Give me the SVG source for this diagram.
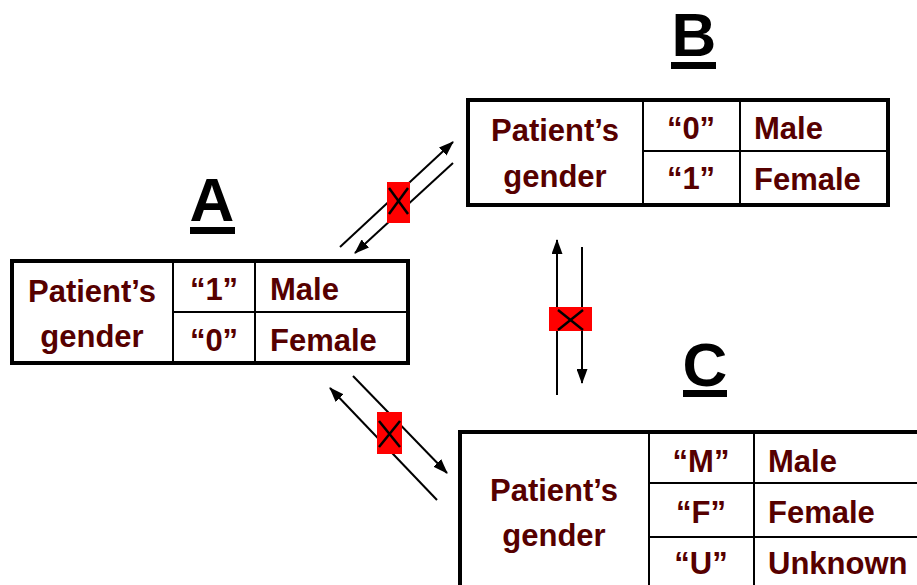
<svg xmlns="http://www.w3.org/2000/svg" width="917" height="585" viewBox="0 0 917 585">
  <defs>
    <marker id="arrow" viewBox="0 0 15 11" refX="14" refY="5.5" markerWidth="15" markerHeight="11" markerUnits="userSpaceOnUse" orient="auto">
      <path d="M0,0 L15,5.5 L0,11 z" fill="#000"/>
    </marker>
    <style>
      .frame { fill: #fff; stroke: #000; stroke-width: 4; }
      .grid { stroke: #000; stroke-width: 2; fill: none; }
      .cell { font-family: "Liberation Sans", Arial, sans-serif; font-weight: bold; font-size: 31px; fill: #560000; }
      .mid { text-anchor: middle; }
      .title { font-family: "Liberation Sans", Arial, sans-serif; font-weight: bold; font-size: 62px; fill: #000; text-anchor: middle; }
      .link { stroke: #000; stroke-width: 2; fill: none; marker-end: url(#arrow); }
      .block { fill: #ff0000; }
      .cross { stroke: #000; stroke-width: 2.5; }
    </style>
  </defs>

  <rect width="917" height="585" fill="#fff"/>

  <!-- connectors: paired arrows, each pair blocked by a red cross -->
  <g id="connectors">
    <line class="link" x1="340" y1="247" x2="453" y2="142"/>
    <line class="link" x1="453" y1="163" x2="355" y2="253"/>
    <rect class="block" x="387" y="182" width="23" height="41"/>
    <line class="cross" x1="389" y1="188" x2="408" y2="214"/>
    <line class="cross" x1="408" y1="188" x2="389" y2="214"/>

    <line class="link" x1="557" y1="395" x2="557" y2="240"/>
    <line class="link" x1="582" y1="247" x2="582" y2="383"/>
    <rect class="block" x="549" y="307" width="43" height="24"/>
    <line class="cross" x1="558" y1="310" x2="583" y2="330"/>
    <line class="cross" x1="583" y1="310" x2="558" y2="330"/>

    <line class="link" x1="353" y1="376" x2="447" y2="473"/>
    <line class="link" x1="437" y1="500" x2="330" y2="388"/>
    <rect class="block" x="377" y="412" width="25" height="42"/>
    <line class="cross" x1="379" y1="421" x2="400" y2="447"/>
    <line class="cross" x1="400" y1="421" x2="379" y2="447"/>
  </g>

  <!-- system A -->
  <g id="node-a">
    <text class="title" x="212" y="221">A</text>
    <rect x="190" y="227" width="45" height="7" fill="#000"/>
    <rect class="frame" x="12" y="261" width="396" height="102"/>
    <path class="grid" d="M173,261 V363 M255,261 V363 M173,312 H408"/>
    <text class="cell mid" x="92" y="302">Patient’s</text>
    <text class="cell mid" x="92" y="347">gender</text>
    <text class="cell mid" x="214" y="300">“1”</text>
    <text class="cell mid" x="214" y="351">“0”</text>
    <text class="cell" x="270" y="300">Male</text>
    <text class="cell" x="270" y="351">Female</text>
  </g>

  <!-- system B -->
  <g id="node-b">
    <text class="title" x="694" y="56">B</text>
    <rect x="671" y="62" width="45" height="7" fill="#000"/>
    <rect class="frame" x="468" y="100" width="420" height="105"/>
    <path class="grid" d="M643,100 V205 M740,100 V205 M643,151 H888"/>
    <text class="cell mid" x="555" y="141">Patient’s</text>
    <text class="cell mid" x="555" y="187">gender</text>
    <text class="cell mid" x="691" y="139">“0”</text>
    <text class="cell mid" x="691" y="189">“1”</text>
    <text class="cell" x="754" y="139">Male</text>
    <text class="cell" x="754" y="190">Female</text>
  </g>

  <!-- system C -->
  <g id="node-c">
    <text class="title" x="705" y="386">C</text>
    <rect x="683" y="390" width="44" height="7" fill="#000"/>
    <rect class="frame" x="460" y="432" width="480" height="180"/>
    <path class="grid" d="M649,432 V600 M754,432 V600 M649,483 H940 M649,537 H940"/>
    <text class="cell mid" x="554" y="501">Patient’s</text>
    <text class="cell mid" x="554" y="546">gender</text>
    <text class="cell mid" x="701" y="472">“M”</text>
    <text class="cell mid" x="701" y="523">“F”</text>
    <text class="cell mid" x="701" y="574">“U”</text>
    <text class="cell" x="768" y="472">Male</text>
    <text class="cell" x="768" y="523">Female</text>
    <text class="cell" x="768" y="574">Unknown</text>
  </g>
</svg>
